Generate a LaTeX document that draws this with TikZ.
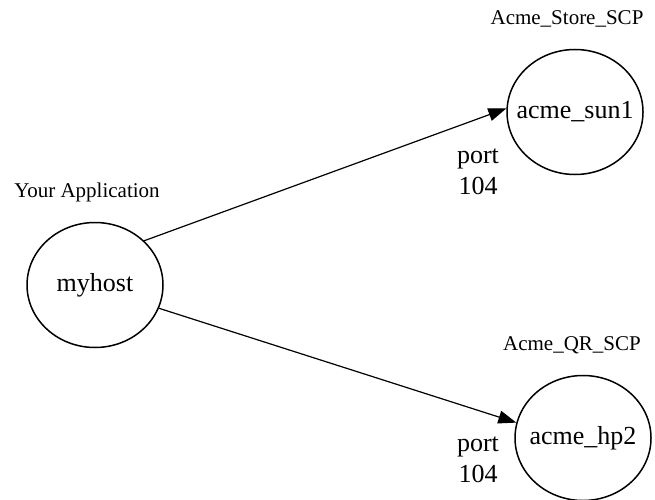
\documentclass[tikz,border=0pt]{standalone}
\usepackage{fontspec}
\setmainfont{Liberation Serif}
\usepackage{tikz}
\usetikzlibrary{shapes.geometric,arrows.meta}

\newcommand{\hostname}[1]{\makebox[0pt]{#1}}

\begin{document}
\begin{tikzpicture}[x=1pt,y=1pt,
	host/.style={ellipse,draw,line width=1.5pt,minimum width=136pt,minimum height=125pt,inner sep=0pt,font=\fontsize{26}{31}\selectfont},
	tag/.style={font=\fontsize{21}{25}\selectfont},
	portlbl/.style={align=center,font=\fontsize{26}{31}\selectfont},
	link/.style={line width=1.2pt,-{Triangle[length=18pt,width=13pt]}}]
	      \useasboundingbox (0,0) rectangle (655,499);
	      \node[host] (myhost) at (95,214) {\hostname{myhost}};
	      \node[host] (sun) at (575,387) {\hostname{acme\_sun1}};
	      \node[host] (hp) at (583,61) {\hostname{acme\_hp2}};
	      \node[tag] (app) at (87,307) {Your Application};
	      \node[tag] (store) at (567,480) {Acme\_Store\_SCP};
	      \node[tag] (qr) at (572,154) {Acme\_QR\_SCP};
	      \node[portlbl] (portsun) at (478,327) {port\\104};
	      \node[portlbl] (porthp) at (478,39) {port\\104};
	      \draw[link] (myhost.42) -- (sun.177);
	      \draw[link] (myhost.-20) -- (hp.167);
	  \end{tikzpicture}
\end{document}
